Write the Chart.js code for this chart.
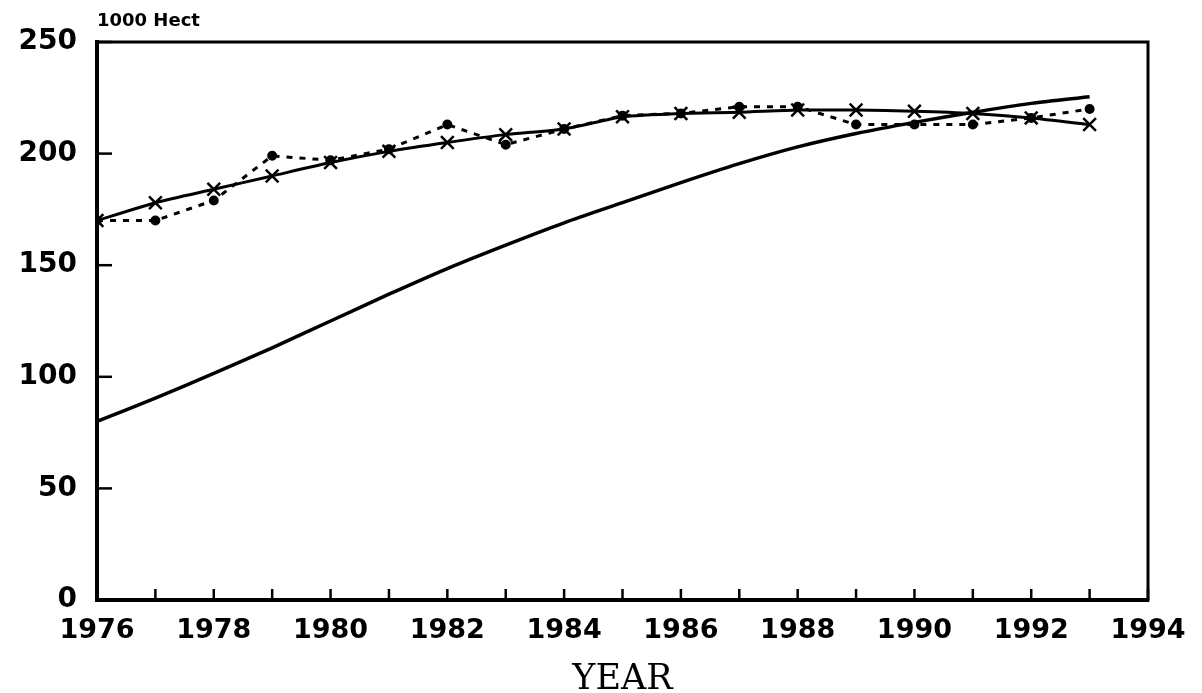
<!DOCTYPE html>
<html>
<head>
<meta charset="utf-8">
<script src="https://cdn.jsdelivr.net/npm/chart.js@4/dist/chart.umd.min.js"></script>
<style>
  body { margin: 0; background: #fff; }
  canvas { display: block; }
</style>
</head>
<body>
<canvas id="area" width="1202" height="693"></canvas>
<script>
// area in 1000 hectares, 1976-1993
const years = [1976, 1977, 1978, 1979, 1980, 1981, 1982, 1983, 1984, 1985, 1986, 1987, 1988, 1989, 1990, 1991, 1992, 1993]
const actual = [170, 170, 179, 199, 197, 202, 213, 204, 211, 217, 218, 221, 221, 213, 213, 213, 216, 220]
const fitted = [170, 178, 184, 190, 196, 201, 205, 208.5, 211, 216.5, 218, 218.5, 219.5, 219.5, 219, 218, 216, 213]
const trend = [80, 90.5, 101.5, 113, 125, 137, 148.5, 159, 169, 178, 187, 195.5, 203, 209, 214, 218.5, 222.5, 225.5]
const yTicks = [0, 50, 100, 150, 200, 250]

const toPoints = (vals) => vals.map((v, i) => ({ x: years[i], y: v }))

// ticks pointing into the plot, plus the box and the unit label
const frame = {
  id: 'frame',
  afterDraw(chart) {
    const { ctx, chartArea: a, scales } = chart
    ctx.save()
    ctx.strokeStyle = '#000'
    ctx.lineWidth = 3
    ctx.strokeRect(a.left, a.top, a.right - a.left, a.bottom - a.top)
    ctx.lineWidth = 2.5
    for (let yr = 1976; yr <= 1994; yr++) {
      const px = scales.x.getPixelForValue(yr)
      ctx.beginPath()
      ctx.moveTo(px, a.bottom)
      ctx.lineTo(px, a.bottom - 11)
      ctx.stroke()
    }
    yTicks.forEach((v) => {
      const py = scales.y.getPixelForValue(v)
      ctx.beginPath()
      ctx.moveTo(a.left, py)
      ctx.lineTo(a.left + 15, py)
      ctx.stroke()
    })
    ctx.fillStyle = '#000'
    ctx.font = 'bold 18px "DejaVu Sans"'
    ctx.textBaseline = 'bottom'
    ctx.fillText('1000 Hect', a.left, a.top - 12)
    ctx.restore()
  }
}

new Chart(document.getElementById('area'), {
  type: 'line',
  data: {
    datasets: [
      {
        label: 'Actual',
        data: toPoints(actual),
        borderColor: '#000',
        backgroundColor: '#000',
        borderWidth: 3,
        borderDash: [6, 7],
        pointRadius: 3.5,
        pointStyle: 'circle',
        tension: 0
      },
      {
        label: 'Fitted',
        data: toPoints(fitted),
        borderColor: '#000',
        backgroundColor: '#000',
        borderWidth: 3,
        pointRadius: 9,
        pointBorderWidth: 2.5,
        pointStyle: 'crossRot',
        tension: 0.2
      },
      {
        label: 'Trend',
        data: toPoints(trend),
        borderColor: '#000',
        borderWidth: 3.5,
        pointRadius: 0,
        tension: 0.3
      }
    ]
  },
  options: {
    responsive: false,
    animation: false,
    layout: { padding: { top: 42, right: 54, left: 0, bottom: 0 } },
    plugins: {
      legend: { display: false },
      tooltip: { enabled: false }
    },
    scales: {
      x: {
        type: 'linear',
        min: 1976,
        max: 1994,
        afterFit: (s) => { s.height = 93 },
        ticks: {
          stepSize: 2,
          color: '#000',
          padding: 15,
          font: { family: 'DejaVu Sans', size: 27, weight: 'bold' },
          callback: (v) => String(v)
        },
        grid: { display: false, drawTicks: false },
        border: { display: true, color: '#000', width: 4 },
        title: {
          display: true,
          text: 'YEAR',
          color: '#000',
          padding: { top: 8, bottom: -8 },
          font: { family: 'DejaVu Serif', size: 35 }
        }
      },
      y: {
        min: 0,
        max: 250,
        afterFit: (s) => { s.width = 97 },
        ticks: {
          stepSize: 50,
          color: '#000',
          padding: 20,
          font: { family: 'DejaVu Sans', size: 28, weight: 'bold' }
        },
        grid: { display: false, drawTicks: false },
        border: { display: true, color: '#000', width: 4 }
      }
    }
  },
  plugins: [frame]
})
</script>
</body>
</html>
